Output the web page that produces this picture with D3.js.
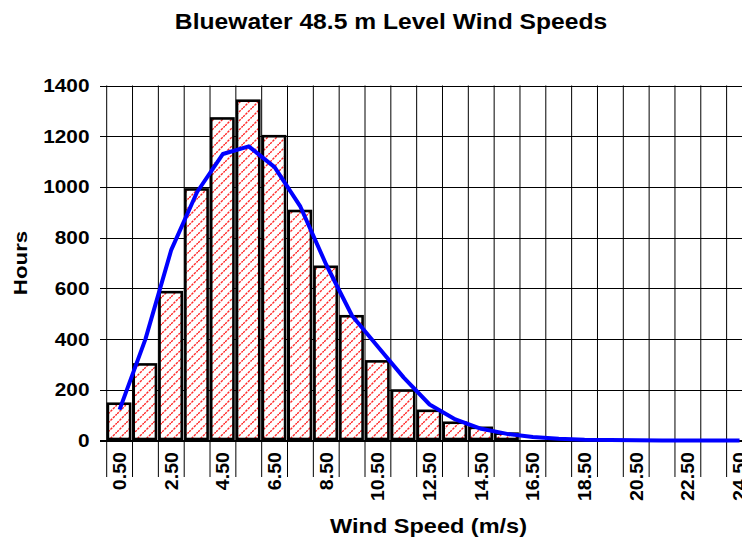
<!DOCTYPE html>
<html>
<head>
<meta charset="utf-8">
<script src="https://cdn.jsdelivr.net/npm/d3@7"></script>
<style>
  html, body { margin: 0; padding: 0; background: #fff; overflow: hidden; }
  svg { display: block; }
  text { font-family: "Liberation Sans", Arial, sans-serif; font-weight: bold; fill: #000; }
</style>
</head>
<body>
<script>
const categories = ["0.50","1.50","2.50","3.50","4.50","5.50","6.50","7.50","8.50","9.50","10.50","11.50","12.50",
  "13.50","14.50","15.50","16.50","17.50","18.50","19.50","20.50","21.50","22.50","23.50","24.50"];
const hours = [145, 300, 585, 990, 1270, 1340, 1200, 905, 685, 490, 312, 197, 117, 70, 50, 27, 0, 0, 0, 0, 0, 0, 0, 0, 0];
const weibull = [122, 400, 752, 980, 1130, 1160, 1078, 922, 693, 492, 370, 248, 142, 83, 46, 26, 14, 7, 3, 1.5, 0.5, 0.2, 0, 0, 0];
const xTickLabels = ["0.50","2.50","4.50","6.50","8.50","10.50","12.50","14.50","16.50","18.50","20.50","22.50","24.50"];
const yTicks = [0, 200, 400, 600, 800, 1000, 1200, 1400];

const W = 742, H = 542;
const svg = d3.select("body").append("svg").attr("width", W).attr("height", H);

const x = d3.scaleBand().domain(categories).range([106.7, 106.7 + 25 * 25.83]).paddingInner(0).paddingOuter(0);
const y = d3.scaleLinear().domain([0, 1400]).range([440.5, 85.5]);

// hatch pattern
const defs = svg.append("defs");
const pat = defs.append("pattern").attr("id", "hatch").attr("patternUnits", "userSpaceOnUse")
  .attr("width", 9).attr("height", 9);
pat.append("rect").attr("width", 9).attr("height", 9).attr("fill", "#fff");
pat.append("path").attr("d", "M-2,2 L2,-2 M0,9 L9,0 M7,11 L11,7")
  .attr("stroke", "#ff2a2a").attr("stroke-width", 1.4).attr("stroke-dasharray", "2.5,1");

const xLeft = x.range()[0], xRight = x.range()[1];

// horizontal gridlines + y tick marks
svg.append("g").selectAll("line").data(yTicks).join("line")
  .attr("x1", 100).attr("x2", xRight)
  .attr("y1", d => Math.round(y(d)) + 0.5).attr("y2", d => Math.round(y(d)) + 0.5)
  .attr("stroke", "#000").attr("stroke-width", 1);

// vertical gridlines (bin boundaries), extending below axis as category ticks
const bounds = categories.map(c => x(c)).concat([xRight]);
svg.append("g").selectAll("line").data(bounds).join("line")
  .attr("x1", d => d).attr("x2", d => d)
  .attr("y1", 85.5).attr("y2", 477)
  .attr("stroke", "#000").attr("stroke-width", 1);

// bars
const bw = x.bandwidth();
svg.append("g").selectAll("rect").data(categories.map((c, i) => ({c, v: hours[i]})).filter(d => d.v > 0)).join("rect")
  .attr("x", d => x(d.c) + 1.2)
  .attr("width", bw * 0.86)
  .attr("y", d => y(d.v))
  .attr("height", d => y(0) - y(d.v) - 1.5)
  .attr("fill", "url(#hatch)")
  .attr("stroke", "#000").attr("stroke-width", 2.6);

// axis line
svg.append("line").attr("x1", 100).attr("x2", xRight).attr("y1", 440.5).attr("y2", 440.5)
  .attr("stroke", "#000").attr("stroke-width", 1.2);

// fitted line
const line = d3.line().x((d, i) => x(categories[i]) + bw / 2).y(d => y(d));
svg.append("path").datum(weibull).attr("d", line)
  .attr("fill", "none").attr("stroke", "#0000ff").attr("stroke-width", 4).attr("stroke-linejoin", "round");

// y tick labels
svg.append("g").selectAll("text").data(yTicks).join("text")
  .attr("transform", d => `translate(89.5,${y(d)}) scale(1.12,1)`)
  .attr("dy", "0.35em").attr("text-anchor", "end").attr("font-size", 18.6)
  .text(d => d);

// x tick labels (rotated)
svg.append("g").selectAll("text").data(xTickLabels).join("text")
  .attr("transform", d => `translate(${x(d) + bw / 2},452) rotate(-90) scale(1.09,1)`)
  .attr("dy", "0.35em").attr("text-anchor", "end").attr("font-size", 18)
  .text(d => d);

// title
svg.append("text").attr("transform", "translate(391,28.5) scale(1.12,1)")
  .attr("text-anchor", "middle").attr("font-size", 22)
  .text("Bluewater 48.5 m Level Wind Speeds");

// x axis title
svg.append("text").attr("transform", "translate(428.5,533) scale(1.12,1)")
  .attr("text-anchor", "middle").attr("font-size", 21)
  .text("Wind Speed (m/s)");

// y axis title
svg.append("text").attr("transform", "translate(26.7,263) rotate(-90) scale(1.2,1)")
  .attr("text-anchor", "middle").attr("font-size", 18.6)
  .text("Hours");
</script>
</body>
</html>
